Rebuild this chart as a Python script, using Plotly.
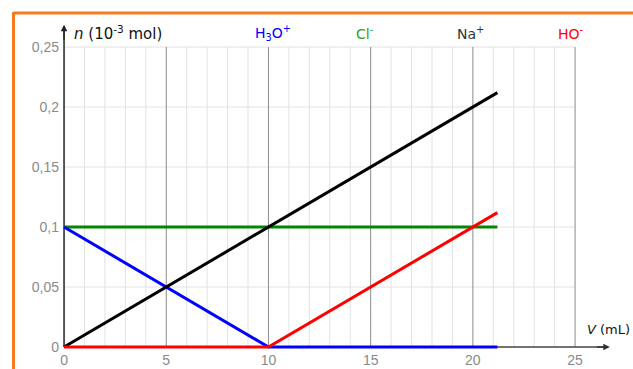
import plotly.graph_objects as go

# ---- data ----
volume_ml = [0, 10, 21.2]
n_h3o = [0.1, 0.0, 0.0]
n_cl = [0.1, 0.1, 0.1]
n_na = [0.0, 0.1, 0.212]
n_ho = [0.0, 0.0, 0.112]

x_ticks = [0, 5, 10, 15, 20, 25]
y_ticks = [0, 0.05, 0.1, 0.15, 0.2, 0.25]
species_labels = ["H<sub>3</sub>O<sup>+</sup>", "Cl<sup>-</sup>", "Na<sup>+</sup>", "HO<sup>-</sup>"]
species_colors = ["#0000ff", "#2e9e2e", "#333333", "#ff0000"]
species_label_x = [10.2, 14.7, 19.9, 24.8]

# ---- layout geometry ----
W, H = 633, 369
XR = [-0.1, 27.1]
YR = [-0.0025, 0.2717]
ML, MR, MT, MB = 62, 15, 21, 19
PW = W - ML - MR
PH = H - MT - MB


def px(xpix):
    return (xpix - ML) / PW


def py(ypix):
    return (H - MB - ypix) / PH


fig = go.Figure()

line_w = 3
fig.add_trace(go.Scatter(x=volume_ml, y=n_cl, mode="lines", line=dict(color="#008800", width=line_w)))
fig.add_trace(go.Scatter(x=volume_ml, y=n_h3o, mode="lines", line=dict(color="#0000ff", width=line_w)))
fig.add_trace(go.Scatter(x=volume_ml, y=n_na, mode="lines", line=dict(color="#000000", width=line_w)))
fig.add_trace(go.Scatter(x=volume_ml, y=n_ho, mode="lines", line=dict(color="#ff0000", width=line_w)))

shapes = []
xmax = x_ticks[-1]
ymax = y_ticks[-1]
# minor vertical grid
for v in range(0, xmax + 1):
    if v % 5 == 0:
        continue
    shapes.append(dict(type="line", xref="x", yref="y", x0=v, x1=v, y0=0, y1=ymax,
                       line=dict(color="#e2e2e2", width=1), layer="below"))
# horizontal grid
for yv in y_ticks[1:]:
    shapes.append(dict(type="line", xref="x", yref="y", x0=0, x1=xmax, y0=yv, y1=yv,
                       line=dict(color="#e2e2e2", width=1), layer="below"))
# major vertical grid
for v in x_ticks[1:]:
    shapes.append(dict(type="line", xref="x", yref="y", x0=v, x1=v, y0=0, y1=ymax,
                       line=dict(color="#8c8c8c", width=1), layer="below"))
# axes lines
shapes.append(dict(type="line", xref="x", yref="y", x0=0, x1=26.6, y0=0, y1=0,
                   line=dict(color="#444444", width=1.5), layer="below"))
shapes.append(dict(type="line", xref="x", yref="y", x0=0, x1=0, y0=0, y1=0.267,
                   line=dict(color="#222222", width=1.5), layer="below"))
# orange frame
shapes.append(dict(type="line", xref="paper", yref="paper", x0=px(13.5), x1=px(640), y0=py(13), y1=py(13),
                   line=dict(color="#f47c20", width=3)))
shapes.append(dict(type="line", xref="paper", yref="paper", x0=px(13.5), x1=px(13.5), y0=py(12), y1=py(380),
                   line=dict(color="#f47c20", width=3)))

annotations = []
# arrowheads
annotations.append(dict(x=26.7, y=0, ax=26.0, ay=0, xref="x", yref="y", axref="x", ayref="y",
                        text="", showarrow=True, arrowhead=2, arrowsize=1, arrowwidth=1.3,
                        arrowcolor="#333333", standoff=0, startstandoff=0))
annotations.append(dict(x=0, y=0.2685, ax=0, ay=0.255, xref="x", yref="y", axref="x", ayref="y",
                        text="", showarrow=True, arrowhead=2, arrowsize=1, arrowwidth=1.3,
                        arrowcolor="#222222", standoff=0, startstandoff=0))
# axis titles
annotations.append(dict(x=px(72), y=py(33), xref="paper", yref="paper", xanchor="left", yanchor="middle",
                        text="<i>n</i> (10<sup>-3</sup> mol)", showarrow=False,
                        font=dict(family="DejaVu Sans", size=15, color="#111111")))
annotations.append(dict(x=px(632), y=py(329), xref="paper", yref="paper", xanchor="right", yanchor="middle",
                        text="<i>V</i> (mL)", showarrow=False,
                        font=dict(family="DejaVu Sans", size=13, color="#111111")))
# species labels
for lab, col, xv in zip(species_labels, species_colors, species_label_x):
    annotations.append(dict(x=xv, y=py(33), xref="x", yref="paper", xanchor="center", yanchor="middle",
                            text=lab, showarrow=False,
                            font=dict(family="DejaVu Sans", size=14, color=col)))

fig.update_layout(
    width=W, height=H,
    margin=dict(l=ML, r=MR, t=MT, b=MB, pad=0, autoexpand=False),
    paper_bgcolor="white", plot_bgcolor="white",
    showlegend=False,
    separators=", ",
    shapes=shapes,
    annotations=annotations,
    xaxis=dict(range=XR, tickvals=x_ticks, showgrid=False, zeroline=False, showline=False,
               ticks="", tickfont=dict(family="Liberation Sans", size=14, color="#8a8a8a"),
               ticklabelstandoff=0, automargin=False),
    yaxis=dict(range=YR, tickvals=y_ticks, showgrid=False, zeroline=False, showline=False,
               ticks="", tickfont=dict(family="Liberation Sans", size=14, color="#8a8a8a"),
               ticklabelstandoff=2, automargin=False),
)

fig.write_html("out.html")
